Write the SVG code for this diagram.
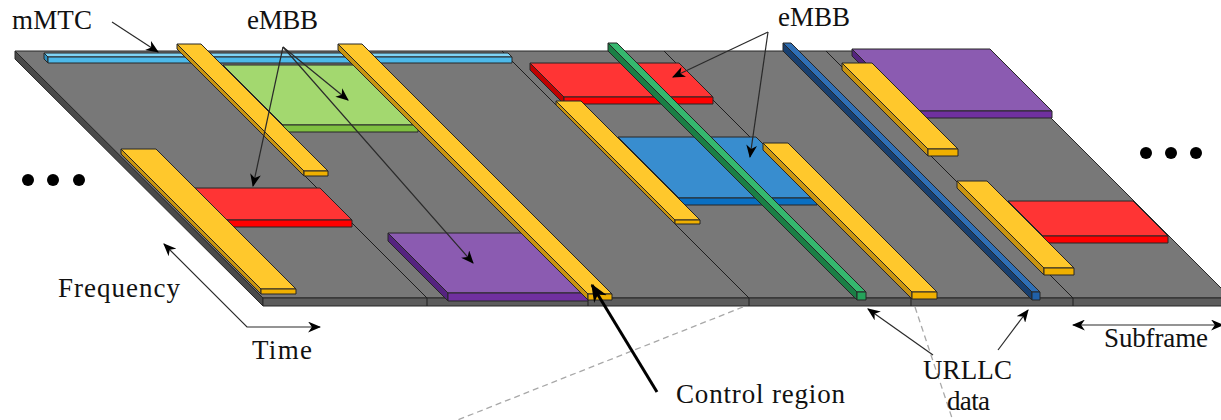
<svg xmlns="http://www.w3.org/2000/svg" width="1221" height="420" viewBox="0 0 1221 420">
  <style>
    .edge { stroke: #262626; stroke-width: 1; stroke-linejoin: round; }
    .plate-top { fill: #787878; }
    .plate-front { fill: #5c5c5c; }
    .plate-side { fill: #4a4a4a; }
    .grid { stroke: #1e1e1e; stroke-width: 1; fill: none; }
    .y-top { fill: #ffc82c; }
    .y-front { fill: #f0b000; }
    .y-side { fill: #c99410; }
    .r-top { fill: #ff3434; }
    .r-front { fill: #ff0000; }
    .r-side { fill: #c00000; }
    .p-top { fill: #8b5bb1; }
    .p-front { fill: #7030a0; }
    .p-side { fill: #55237f; }
    .g-top { fill: #a3d86f; }
    .g-front { fill: #7fc040; }
    .g-side { fill: #65a030; }
    .b-top { fill: #388dcf; }
    .b-front { fill: #0a6fc2; }
    .b-side { fill: #0b4f8c; }
    .m-top { fill: #80d4f6; }
    .m-front { fill: #4cb9ea; }
    .m-side { fill: #2e8fbf; }
    .gr-top { fill: #35b86e; }
    .gr-front { fill: #25a35a; }
    .gr-side { fill: #1a7f45; }
    .db-top { fill: #2f6fb5; }
    .db-front { fill: #2060a8; }
    .db-side { fill: #173f70; }
    .lbl { font-family: "Liberation Serif", "Times New Roman", serif; font-size: 27px; fill: #111; }
    .thin { stroke: #2a2a2a; stroke-width: 1.2; fill: none; }
    .dash { stroke: #a8a8a8; stroke-width: 1.3; stroke-dasharray: 6 4; fill: none; }
  </style>
  <defs>
    <marker id="ah" viewBox="0 0 12 10" refX="11" refY="5" markerWidth="13" markerHeight="11" markerUnits="userSpaceOnUse" orient="auto-start-reverse">
      <path d="M0,0 L12,5 L0,10 L3.5,5 z" fill="#000"/>
    </marker>
    <marker id="ahBig" viewBox="0 0 12 10" refX="11" refY="5" markerWidth="18" markerHeight="15" markerUnits="userSpaceOnUse" orient="auto">
      <path d="M0,0 L12,5 L0,10 L3.5,5 z" fill="#000"/>
    </marker>
  </defs>

  <!-- resource grid plate -->
  <g id="plate">
    <polygon class="plate-side edge" points="15,51 263,298 263,306 15,59"/>
    <polygon class="plate-top edge" points="15,51 984,51 1231,298 263,298"/>
    <rect class="plate-front edge" x="263" y="298" width="970" height="8"/>
  </g>

  <!-- subframe boundaries -->
  <g id="subframes" class="grid">
    <line x1="180" y1="51" x2="427" y2="298"/>
    <line x1="341" y1="51" x2="588" y2="298"/>
    <line x1="502" y1="51" x2="749" y2="298"/>
    <line x1="664" y1="51" x2="911" y2="298"/>
    <line x1="826" y1="51" x2="1073" y2="298"/>
    <line x1="427" y1="298" x2="427" y2="306"/>
    <line x1="588" y1="298" x2="588" y2="306"/>
    <line x1="749" y1="298" x2="749" y2="306"/>
    <line x1="911" y1="298" x2="911" y2="306"/>
    <line x1="1073" y1="298" x2="1073" y2="306"/>
  </g>

  <!-- mMTC band along the top edge -->
  <g id="mmtc-bar">
    <polygon class="m-side edge" points="44,53 48,57 48,63 44,59"/>
    <polygon class="m-top edge" points="44,53 508,53 512,57 48,57"/>
    <rect class="m-front edge" x="48" y="57" width="464" height="6"/>
  </g>

  <!-- eMBB allocations -->
  <g id="embb-green">
    <polygon class="g-side edge" points="223,65 283,125 283,132 223,72"/>
    <polygon class="g-top edge" points="223,65 358,65 418,125 283,125"/>
    <rect class="g-front edge" x="283" y="125" width="135" height="7"/>
  </g>
  <g id="embb-red-top">
    <polygon class="r-side edge" points="530,63 564,97 564,104 530,70"/>
    <polygon class="r-top edge" points="530,63 679,63 713,97 564,97"/>
    <rect class="r-front edge" x="564" y="97" width="149" height="7"/>
  </g>
  <g id="embb-blue">
    <polygon class="b-side edge" points="618,137 679,198 679,205 618,144"/>
    <polygon class="b-top edge" points="618,137 756,137 817,198 679,198"/>
    <rect class="b-front edge" x="679" y="198" width="138" height="7"/>
  </g>
  <g id="embb-red-left">
    <polygon class="r-side edge" points="195,188 227,220 227,227 195,195"/>
    <polygon class="r-top edge" points="195,188 320,188 352,220 227,220"/>
    <rect class="r-front edge" x="227" y="220" width="125" height="7"/>
  </g>
  <g id="embb-purple-mid">
    <polygon class="p-side edge" points="388,233 448,293 448,301 388,241"/>
    <polygon class="p-top edge" points="388,233 528,233 588,293 448,293"/>
    <rect class="p-front edge" x="448" y="293" width="140" height="8"/>
  </g>
  <g id="embb-purple-right">
    <polygon class="p-side edge" points="852,49 914,111 914,118 852,56"/>
    <polygon class="p-top edge" points="852,49 990,49 1052,111 914,111"/>
    <rect class="p-front edge" x="914" y="111" width="138" height="7"/>
  </g>
  <g id="embb-red-right">
    <polygon class="r-side edge" points="1008,201 1043,236 1043,243 1008,208"/>
    <polygon class="r-top edge" points="1008,201 1133,201 1168,236 1043,236"/>
    <rect class="r-front edge" x="1043" y="236" width="125" height="7"/>
  </g>

  <!-- control region bars -->
  <g id="ctrl-1">
    <polygon class="y-side edge" points="177,44 304,171 304,176 177,49"/>
    <polygon class="y-top edge" points="177,44 201,44 328,171 304,171"/>
    <rect class="y-front edge" x="304" y="171" width="24" height="5"/>
  </g>
  <g id="ctrl-2">
    <polygon class="y-side edge" points="338,44 588,294 588,300 338,50"/>
    <polygon class="y-top edge" points="338,44 362,44 612,294 588,294"/>
    <rect class="y-front edge" x="588" y="294" width="24" height="6"/>
  </g>
  <g id="ctrl-3">
    <polygon class="y-side edge" points="121,149 261,289 261,294 121,154"/>
    <polygon class="y-top edge" points="121,149 156,149 296,289 261,289"/>
    <rect class="y-front edge" x="261" y="289" width="35" height="5"/>
  </g>
  <g id="ctrl-4">
    <polygon class="y-side edge" points="556,101 675,220 675,224 556,105"/>
    <polygon class="y-top edge" points="556,101 581,101 700,220 675,220"/>
    <rect class="y-front edge" x="675" y="220" width="25" height="4"/>
  </g>
  <g id="ctrl-5">
    <polygon class="y-side edge" points="763,143 912,292 912,299 763,150"/>
    <polygon class="y-top edge" points="763,143 788,143 937,292 912,292"/>
    <rect class="y-front edge" x="912" y="292" width="25" height="7"/>
  </g>
  <g id="ctrl-6">
    <polygon class="y-side edge" points="842,63 928,149 928,156 842,70"/>
    <polygon class="y-top edge" points="842,63 872,63 958,149 928,149"/>
    <rect class="y-front edge" x="928" y="149" width="30" height="7"/>
  </g>
  <g id="ctrl-7">
    <polygon class="y-side edge" points="957,181 1044,268 1044,275 957,188"/>
    <polygon class="y-top edge" points="957,181 987,181 1074,268 1044,268"/>
    <rect class="y-front edge" x="1044" y="268" width="30" height="7"/>
  </g>

  <!-- URLLC data rods -->
  <g id="urllc-green">
    <polygon class="gr-side edge" points="608,43 857,292 857,300 608,51"/>
    <polygon class="gr-top edge" points="608,43 617,43 866,292 857,292"/>
    <rect class="gr-front edge" x="857" y="292" width="9" height="8"/>
  </g>
  <g id="urllc-blue">
    <polygon class="db-side edge" points="783,43 1032,292 1032,300 783,51"/>
    <polygon class="db-top edge" points="783,43 791,43 1040,292 1032,292"/>
    <rect class="db-front edge" x="1032" y="292" width="8" height="8"/>
  </g>

  <!-- continuation dots -->
  <g id="dots-left" fill="#000">
    <circle cx="28" cy="180" r="6"/>
    <circle cx="53" cy="180" r="6"/>
    <circle cx="79" cy="180" r="6"/>
  </g>
  <g id="dots-right" fill="#000">
    <circle cx="1146" cy="153" r="6"/>
    <circle cx="1171" cy="153" r="6"/>
    <circle cx="1196" cy="153" r="6"/>
  </g>

  <!-- connectors -->
  <g id="connectors">
    <line class="dash" x1="743" y1="307" x2="455" y2="421"/>
    <line class="dash" x1="915" y1="307" x2="953" y2="421"/>
    <line class="thin" x1="112" y1="22" x2="158" y2="52" marker-end="url(#ah)"/>
    <line class="thin" x1="283" y1="47" x2="348" y2="100" marker-end="url(#ah)"/>
    <line class="thin" x1="283" y1="47" x2="253" y2="186" marker-end="url(#ah)"/>
    <line class="thin" x1="283" y1="47" x2="473" y2="263" marker-end="url(#ah)"/>
    <line class="thin" x1="768" y1="32" x2="673" y2="77" marker-end="url(#ah)"/>
    <line class="thin" x1="768" y1="32" x2="750" y2="157" marker-end="url(#ah)"/>
    <line x1="657" y1="392" x2="592" y2="285" stroke="#000" stroke-width="3" marker-end="url(#ahBig)"/>
    <line class="thin" x1="933" y1="355" x2="868" y2="309" marker-end="url(#ah)"/>
    <line class="thin" x1="998" y1="350" x2="1028" y2="310" marker-end="url(#ah)"/>
    <line class="thin" x1="1073" y1="325" x2="1223" y2="325" marker-start="url(#ah)" marker-end="url(#ah)"/>
    <polyline class="thin" points="164,244 247,327 320,327" marker-start="url(#ah)" marker-end="url(#ah)"/>
  </g>

  <!-- labels -->
  <g id="labels">
    <text class="lbl" x="12" y="29" textLength="80">mMTC</text>
    <text class="lbl" x="247" y="29" textLength="71">eMBB</text>
    <text class="lbl" x="778" y="26" textLength="72">eMBB</text>
    <text class="lbl" x="58" y="297" textLength="122">Frequency</text>
    <text class="lbl" x="252" y="359" textLength="60">Time</text>
    <text class="lbl" x="676" y="403" textLength="169">Control region</text>
    <text class="lbl" x="923" y="379" textLength="89">URLLC</text>
    <text class="lbl" x="947" y="410" textLength="43">data</text>
    <text class="lbl" x="1104" y="347" textLength="104">Subframe</text>
  </g>
</svg>
